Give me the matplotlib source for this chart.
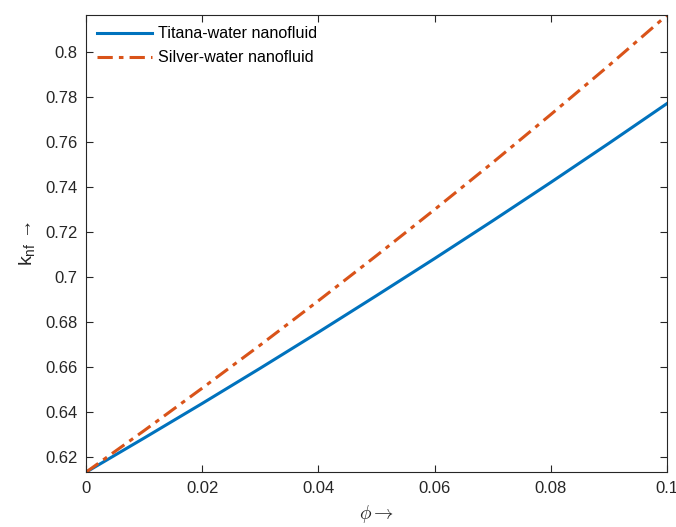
import numpy as np
import matplotlib.pyplot as plt

plt.rcParams['font.family'] = ['Liberation Sans', 'DejaVu Sans']
plt.rcParams['mathtext.fontset'] = 'custom'
plt.rcParams['mathtext.rm'] = 'Liberation Sans'
plt.rcParams['mathtext.it'] = 'Liberation Sans:italic'

# volume fraction and thermal conductivity of the two nanofluids
phi = [0.0, 0.01, 0.02, 0.03, 0.04, 0.05, 0.06, 0.07, 0.08, 0.09, 0.10]
k_titana = [0.6130, 0.6282, 0.6436, 0.6593, 0.6753, 0.6916, 0.7081, 0.7249, 0.7420, 0.7594, 0.7771]
k_silver = [0.6130, 0.6315, 0.6504, 0.6696, 0.6893, 0.7094, 0.7299, 0.7508, 0.7722, 0.7940, 0.8164]

fig = plt.figure(figsize=(6.76, 5.27), dpi=100)
ax = fig.add_axes([0.127, 0.1038, 0.86, 0.8677])

ax.plot(phi, k_titana, '-', color='#0072BD', linewidth=2.2, label='Titana-water nanofluid')
ax.plot(phi, k_silver, '-.', color='#D95319', linewidth=2.2, label='Silver-water nanofluid',
        dashes=(5, 2, 1.5, 2))

ax.set_xlim(0, 0.1)
ax.set_ylim(min(k_titana), max(k_silver))
ax.set_xticks([0, 0.02, 0.04, 0.06, 0.08, 0.1])
ax.set_xticklabels(['0', '0.02', '0.04', '0.06', '0.08', '0.1'])
ax.set_yticks(np.arange(0.62, 0.81, 0.02))
ax.set_yticklabels(['0.62', '0.64', '0.66', '0.68', '0.7', '0.72', '0.74', '0.76', '0.78', '0.8'])

ax.tick_params(direction='in', top=True, right=True, length=5, width=0.8,
               labelsize=12, colors='#262626', pad=6)
for s in ax.spines.values():
    s.set_color('#262626')
    s.set_linewidth(0.8)

ax.set_xlabel(r'$\phi \rightarrow$', fontsize=14, color='#262626', math_fontfamily='cm',
              labelpad=5)
ax.set_ylabel('k$_{\\mathrm{nf}}$ \u2192', fontsize=14, color='#262626', labelpad=6)

ax.legend(loc='upper left', frameon=False, fontsize=11.6, handlelength=3.4,
          borderaxespad=0.3, handletextpad=0.35, labelspacing=0.55)

fig.savefig('out.png', dpi=100)
